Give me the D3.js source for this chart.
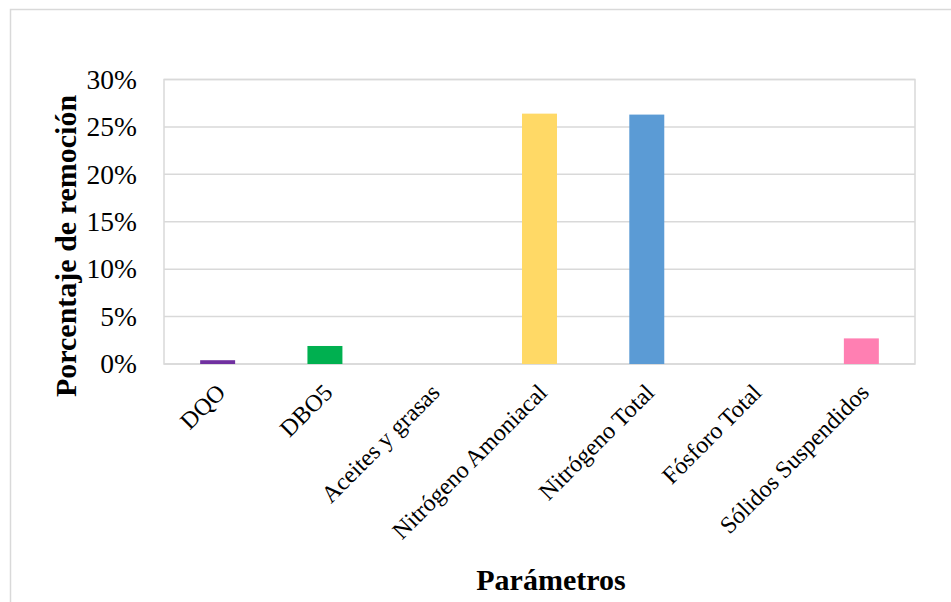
<!DOCTYPE html>
<html><head><meta charset="utf-8">
<script src="https://cdn.jsdelivr.net/npm/d3@7"></script>
<style>body{margin:0;background:#fff}svg{display:block}text{font-family:"Liberation Serif","Times New Roman",serif}</style>
</head><body>
<svg id="c" width="951" height="602"></svg>
<script>
const categories = ["DQO","DBO5","Aceites y grasas","Nitrógeno Amoniacal","Nitrógeno Total","Fósforo Total","Sólidos Suspendidos"];
const values = [0.004, 0.019, 0, 0.264, 0.263, 0, 0.027];
const colors = ["#7030a0","#00b050","#a5a5a5","#ffd966","#5b9bd5","#70ad47","#ff7fb2"];
const yTicks = [0,0.05,0.10,0.15,0.20,0.25,0.30];

const svg = d3.select("#c");
svg.append("rect").attr("x",10.5).attr("y",9.5).attr("width",960).attr("height",620)
  .attr("fill","#fff").attr("stroke","#d9d9d9").attr("stroke-width",1.5);

const L=164, R=915, T=79.5, B=364;
const x = d3.scaleBand().domain(categories).range([L,R]).paddingInner(0.674).paddingOuter(0.337);
const y = d3.scaleLinear().domain([0,0.30]).range([B,T]);

const g = svg.append("g");
g.selectAll("line.grid").data(yTicks).join("line")
  .attr("x1",L).attr("x2",R).attr("y1",d=>y(d)).attr("y2",d=>y(d))
  .attr("stroke","#d9d9d9").attr("stroke-width",1.5);
g.append("rect").attr("x",L).attr("y",T).attr("width",R-L).attr("height",B-T)
  .attr("fill","none").attr("stroke","#d9d9d9").attr("stroke-width",1.5);

g.selectAll("rect.bar").data(values).join("rect").attr("class","bar")
  .attr("x",(d,i)=>x(categories[i])).attr("width",x.bandwidth())
  .attr("y",d=>y(d)).attr("height",d=>B-y(d))
  .attr("fill",(d,i)=>colors[i]);

const yAxis = d3.axisLeft(y).tickValues(yTicks).tickFormat(d3.format(".0%")).tickSize(0).tickPadding(27);
const ya = svg.append("g").attr("transform",`translate(${L},0)`).call(yAxis);
ya.select(".domain").remove();
ya.selectAll("text").attr("font-size",27.5).attr("fill","#000").attr("font-family","Liberation Serif");

const xAxis = d3.axisBottom(x).tickSize(0).tickPadding(0);
const xa = svg.append("g").attr("transform",`translate(0,${B})`).call(xAxis);
xa.select(".domain").remove();
xa.selectAll("text").attr("font-size",24).attr("fill","#000").attr("font-family","Liberation Serif")
  .attr("text-anchor","end").attr("dy",0)
  .attr("transform","translate(9,30) rotate(-45)");

svg.append("text").attr("x",551).attr("y",590).attr("text-anchor","middle")
  .attr("font-size",30).attr("font-weight","bold").text("Parámetros");
svg.append("text").attr("transform","translate(76,246) rotate(-90)").attr("text-anchor","middle")
  .attr("font-size",30).attr("font-weight","bold").text("Porcentaje de remoción");
</script>
</body></html>
